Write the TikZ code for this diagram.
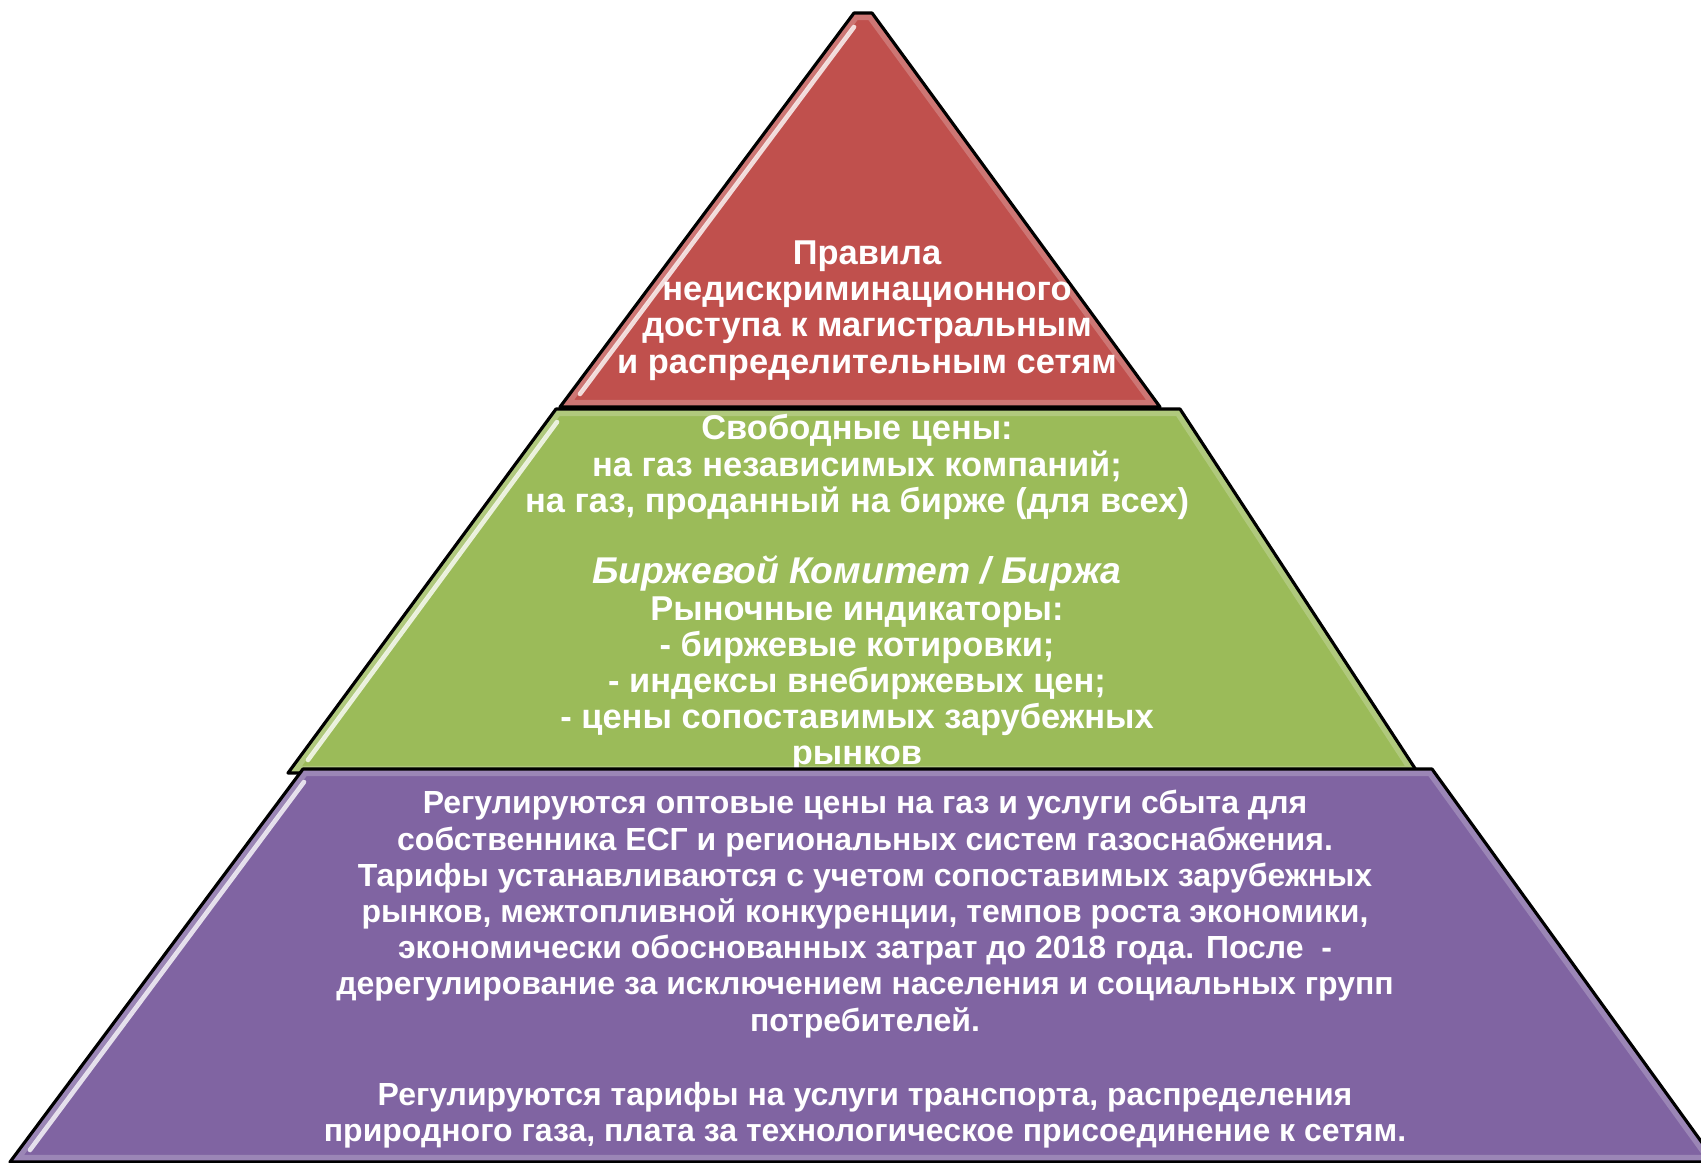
\documentclass[tikz,border=0pt]{standalone}
\usepackage{fontspec}
\setmainfont{Liberation Sans}
\definecolor{tierred}{HTML}{C0504D}
\definecolor{tiergreen}{HTML}{9BBB59}
\definecolor{tierviolet}{HTML}{8064A2}

\begin{document}
\begin{tikzpicture}
\tikzset{ tier/.style={draw=black, line width=0.9pt, line join=round},
  glow/.style={white, line width=4pt, opacity=0.22},
  gloss/.style={white, line width=1.3pt, opacity=0.8, line cap=round},
  lbl/.style={text=white, font=\bfseries\fontsize{9.8}{10.3}\selectfont, align=center, inner sep=0pt},
}

\useasboundingbox (0,0) rectangle (17.01,11.62);

%\draw [lightgray, dashed](0,0) grid (17,11);

% top tier
\coordinate (R1) at (8.54,11.49);
\coordinate (R2) at (8.72,11.49);
\coordinate (R3) at (11.60,7.55);
\coordinate (R4) at (5.60,7.55);
\fill [tierred] (R1) -- (R2) -- (R3) -- (R4) -- cycle;
\begin{scope}
\clip (R1) -- (R2) -- (R3) -- (R4) -- cycle;
\draw [glow] (R1) -- (R2) -- (R3) -- (R4) -- cycle;
\end{scope}
\draw [tier] (R1) -- (R2) -- (R3) -- (R4) -- cycle;
\draw [gloss] (8.54,11.35) -- (5.80,7.68);

\node [lbl] (rules) at (8.67,8.515) {Правила\\недискриминационного\\доступа к магистральным\\и распределительным сетям};

% middle tier
\coordinate (G1) at (5.56,7.53);
\coordinate (G2) at (11.80,7.53);
\coordinate (G3) at (14.18,3.89);
\coordinate (G4) at (2.88,3.89);
\fill [tiergreen] (G1) -- (G2) -- (G3) -- (G4) -- cycle;
\begin{scope}
\clip (G1) -- (G2) -- (G3) -- (G4) -- cycle;
\draw [glow] (G1) -- (G2) -- (G3) -- (G4) -- cycle;
\end{scope}
\draw [tier] (G1) -- (G2) -- (G3) -- (G4) -- cycle;
\draw [gloss] (5.57,7.40) -- (3.08,4.02);

\node [lbl] (free) at (8.57,6.95) {Свободные цены:\\на газ независимых компаний;\\на газ, проданный на бирже (для всех)};
\node [lbl] (market) at (8.57,4.98) {{\itshape\fontsize{10.6}{10.3}\selectfont Биржевой Комитет / Биржа}\\Рыночные индикаторы:\\- биржевые котировки;\\- индексы внебиржевых цен;\\- цены сопоставимых зарубежных\\рынков};

% bottom tier
\coordinate (V1) at (3.03,3.93);
\coordinate (V2) at (14.32,3.93);
\coordinate (V3) at (17.16,0);
\coordinate (V4) at (0.10,0);
\fill [tierviolet] (V1) -- (V2) -- (V3) -- (V4) -- cycle;
\begin{scope}
\clip (V1) -- (V2) -- (V3) -- (V4) -- cycle;
\draw [glow] (V1) -- (V2) -- (V3) -- (V4) -- cycle;
\end{scope}
\draw [tier] (V1) -- (V2) -- (V3) -- (V4) -- cycle;
\draw [gloss] (3.04,3.80) -- (0.30,0.12);

\node [lbl, font=\bfseries\fontsize{9.1}{10.3}\selectfont] (tariffs) at (8.65,2.48) {Регулируются оптовые цены на газ и услуги сбыта для\\собственника ЕСГ и региональных систем газоснабжения.\\Тарифы устанавливаются с учетом сопоставимых зарубежных\\рынков, межтопливной конкуренции, темпов роста экономики,\\экономически обоснованных затрат до 2018 года. После~~-\\дерегулирование за исключением населения и социальных групп\\потребителей.};
\node [lbl, font=\bfseries\fontsize{9.1}{10.3}\selectfont] (transport) at (8.65,0.465) {Регулируются тарифы на услуги транспорта, распределения\\природного газа, плата за технологическое присоединение к сетям.};

\end{tikzpicture}
\end{document}
